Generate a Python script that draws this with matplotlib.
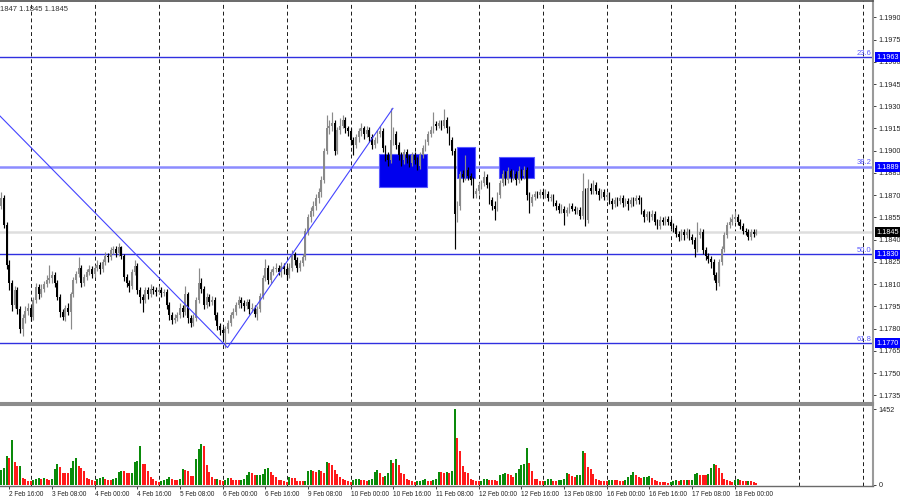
import numpy as np
import matplotlib
matplotlib.use("Agg")
import matplotlib.pyplot as plt
from matplotlib.patches import Rectangle
import matplotlib.transforms as mtransforms
from matplotlib import font_manager

plt.rcParams['font.family'] = ['Liberation Sans', 'DejaVu Sans']
_names = {f.name for f in font_manager.fontManager.ttflist}
if 'Liberation Sans Narrow' in _names:
    date_font = dict(family=['Liberation Sans Narrow', 'DejaVu Sans'], size=5.6)
else:
    date_font = dict(family=['Liberation Sans', 'DejaVu Sans'], size=4.7)

PIP = 1e-4  # prices below are stored in units of 0.0001

first_open = 11860
closes = [
    11863, 11868, 11850, 11823, 11811, 11796, 11806, 11793, 11780, 11787, 11792, 11794,
    11788, 11799, 11808, 11803, 11807, 11810, 11813, 11814, 11816, 11811, 11801, 11791,
    11788, 11794, 11791, 11803, 11813, 11817, 11821, 11811, 11815, 11818, 11820, 11817,
    11821, 11823, 11820, 11825, 11829, 11828, 11833, 11834, 11831, 11835, 11829, 11815,
    11811, 11809, 11818, 11822, 11806, 11801, 11799, 11806, 11803, 11807, 11806, 11805,
    11806, 11804, 11805, 11796, 11789, 11786, 11787, 11789, 11794, 11791, 11803, 11787,
    11784, 11787, 11799, 11811, 11807, 11796, 11801, 11798, 11799, 11789, 11782, 11779,
    11777, 11780, 11784, 11789, 11791, 11796, 11799, 11797, 11795, 11798, 11793, 11794,
    11790, 11793, 11802, 11814, 11821, 11813, 11818, 11820, 11821, 11818, 11822, 11820,
    11816, 11821, 11830, 11826, 11821, 11824, 11828, 11846, 11855, 11859, 11863, 11868,
    11872, 11880, 11900, 11915, 11917, 11919, 11900, 11914, 11917, 11921, 11915, 11913,
    11907, 11904, 11909, 11913, 11915, 11911, 11914, 11909, 11904, 11907, 11911, 11913,
    11902, 11897, 11894, 11907, 11911, 11904, 11897, 11894, 11899, 11895, 11892, 11897,
    11894, 11890, 11897, 11902, 11906, 11911, 11914, 11918, 11917, 11919, 11917, 11921,
    11915, 11907, 11900, 11857, 11863, 11884, 11882, 11887, 11883, 11880, 11871, 11873,
    11877, 11878, 11882, 11877, 11867, 11863, 11861, 11870, 11878, 11884, 11880, 11886,
    11882, 11884, 11880, 11886, 11883, 11887, 11870, 11865, 11869, 11871, 11870, 11872,
    11870, 11871, 11868, 11869, 11865, 11863, 11860, 11861, 11858, 11860, 11863, 11861,
    11859, 11860, 11856, 11873, 11853, 11875, 11873, 11877, 11873, 11870, 11872, 11869,
    11870, 11866, 11864, 11867, 11866, 11868, 11865, 11866, 11864, 11867, 11866, 11868,
    11867, 11859, 11855, 11857, 11855, 11857, 11852, 11849, 11853, 11852, 11854, 11852,
    11849, 11848, 11844, 11842, 11845, 11843, 11845, 11842, 11840, 11834, 11843, 11845,
    11833, 11829, 11827, 11825, 11816, 11811, 11825, 11834, 11843, 11850, 11852, 11854,
    11855, 11852, 11849, 11846, 11845, 11842, 11845, 11844, 11845,
]
highs = [
    11872, 11872, 11870, 11852, 11826, 11813, 11809, 11808, 11795, 11790, 11795, 11797,
    11796, 11801, 11811, 11810, 11810, 11812, 11816, 11823, 11819, 11818, 11813, 11803,
    11793, 11796, 11797, 11805, 11815, 11819, 11828, 11823, 11817, 11820, 11823, 11822,
    11823, 11826, 11825, 11827, 11832, 11831, 11835, 11836, 11836, 11838, 11836, 11830,
    11817, 11813, 11820, 11826, 11824, 11808, 11803, 11808, 11808, 11810, 11809, 11808,
    11809, 11808, 11807, 11807, 11798, 11791, 11790, 11791, 11797, 11796, 11809, 11805,
    11789, 11790, 11801, 11821, 11814, 11809, 11804, 11803, 11802, 11801, 11791, 11784,
    11781, 11782, 11786, 11791, 11794, 11798, 11802, 11801, 11799, 11800, 11800, 11797,
    11796, 11795, 11804, 11816, 11827, 11823, 11820, 11822, 11824, 11823, 11825, 11824,
    11822, 11824, 11833, 11832, 11828, 11826, 11830, 11848, 11857, 11862, 11866, 11871,
    11875, 11883, 11902, 11924, 11921, 11926, 11921, 11916, 11922, 11924, 11923, 11917,
    11915, 11909, 11911, 11915, 11919, 11917, 11917, 11916, 11911, 11909, 11914, 11917,
    11915, 11904, 11899, 11929, 11916, 11913, 11906, 11899, 11901, 11901, 11897, 11899,
    11899, 11896, 11899, 11904, 11908, 11913, 11917, 11926, 11920, 11921, 11921, 11928,
    11923, 11917, 11909, 11902, 11866, 11886, 11887, 11897, 11889, 11885, 11882, 11875,
    11879, 11880, 11886, 11884, 11879, 11869, 11866, 11872, 11880, 11887, 11886, 11889,
    11888, 11887, 11886, 11890, 11888, 11890, 11889, 11872, 11871, 11873, 11873, 11874,
    11874, 11874, 11873, 11871, 11871, 11867, 11865, 11864, 11863, 11862, 11865, 11865,
    11863, 11862, 11862, 11885, 11875, 11881, 11878, 11880, 11879, 11875, 11874, 11874,
    11872, 11872, 11868, 11869, 11869, 11870, 11870, 11868, 11868, 11869, 11869, 11870,
    11870, 11869, 11861, 11859, 11859, 11860, 11859, 11854, 11856, 11855, 11856, 11856,
    11854, 11851, 11850, 11846, 11847, 11847, 11848, 11847, 11844, 11842, 11852, 11848,
    11847, 11835, 11831, 11829, 11827, 11818, 11827, 11836, 11845, 11852, 11855, 11857,
    11859, 11857, 11854, 11851, 11848, 11847, 11847, 11847, 11847,
]
lows = [
    11858, 11861, 11848, 11820, 11806, 11792, 11794, 11790, 11777, 11775, 11784, 11789,
    11785, 11786, 11797, 11800, 11801, 11805, 11808, 11811, 11811, 11808, 11799, 11788,
    11786, 11785, 11789, 11780, 11801, 11811, 11815, 11808, 11809, 11813, 11816, 11814,
    11815, 11819, 11817, 11818, 11823, 11825, 11826, 11830, 11828, 11829, 11827, 11812,
    11808, 11805, 11807, 11816, 11803, 11797, 11791, 11797, 11800, 11801, 11803, 11802,
    11803, 11801, 11802, 11793, 11786, 11783, 11784, 11785, 11787, 11788, 11789, 11784,
    11781, 11782, 11785, 11797, 11804, 11793, 11794, 11795, 11796, 11786, 11779, 11776,
    11772, 11767, 11777, 11782, 11787, 11789, 11794, 11794, 11792, 11793, 11790, 11791,
    11788, 11786, 11791, 11800, 11812, 11810, 11811, 11816, 11818, 11816, 11815, 11817,
    11813, 11814, 11819, 11823, 11818, 11819, 11822, 11826, 11843, 11852, 11856, 11860,
    11865, 11869, 11878, 11898, 11911, 11913, 11897, 11898, 11911, 11915, 11912, 11910,
    11904, 11897, 11902, 11906, 11910, 11908, 11909, 11906, 11901, 11902, 11905, 11909,
    11899, 11893, 11890, 11892, 11904, 11901, 11894, 11890, 11891, 11892, 11889, 11890,
    11891, 11887, 11888, 11895, 11900, 11904, 11909, 11912, 11914, 11915, 11914, 11915,
    11912, 11904, 11897, 11834, 11852, 11860, 11879, 11880, 11880, 11877, 11868, 11868,
    11871, 11874, 11876, 11875, 11864, 11860, 11853, 11859, 11868, 11876, 11877, 11878,
    11879, 11880, 11877, 11878, 11880, 11881, 11867, 11858, 11863, 11867, 11868, 11868,
    11868, 11868, 11866, 11866, 11863, 11860, 11858, 11858, 11850, 11856, 11858, 11859,
    11857, 11857, 11854, 11854, 11849, 11851, 11871, 11871, 11871, 11867, 11868, 11867,
    11867, 11864, 11861, 11862, 11863, 11864, 11862, 11863, 11860, 11862, 11863, 11864,
    11864, 11857, 11852, 11853, 11852, 11853, 11850, 11847, 11847, 11850, 11850, 11850,
    11847, 11845, 11842, 11839, 11840, 11840, 11841, 11840, 11837, 11828, 11832, 11841,
    11830, 11826, 11824, 11821, 11813, 11806, 11809, 11823, 11832, 11841, 11848, 11850,
    11852, 11850, 11847, 11844, 11843, 11840, 11840, 11842, 11843,
]
volumes = [
    250,
    283, 315, 553, 521, 862, 444, 360, 365, 129, 109, 77, 64,
    90, 103, 122, 103, 122, 103, 100, 109, 296, 392, 334, 225,
    222, 220, 322, 463, 508, 354, 315, 264, 135, 103, 84, 71,
    103, 122, 141, 109, 90, 88, 103, 122, 251, 270, 268, 231,
    219, 231, 437, 463, 746, 405, 398, 264, 154, 103, 71, 58,
    77, 90, 116, 154, 116, 90, 88, 103, 296, 290, 270, 167,
    165, 489, 688, 784, 746, 379, 251, 154, 103, 106, 90, 64,
    90, 129, 122, 90, 84, 82, 90, 103, 186, 251, 219, 180,
    182, 184, 206, 296, 315, 251, 186, 141, 90, 84, 64, 58,
    154, 129, 127, 77, 75, 73, 77, 257, 283, 264, 251, 283,
    270, 219, 437, 411, 373, 283, 206, 154, 103, 90, 71, 58,
    90, 109, 116, 90, 88, 64, 90, 116, 251, 276, 231, 154,
    158, 231, 476, 424, 502, 379, 219, 206, 103, 90, 71, 58,
    71, 77, 90, 103, 77, 75, 90, 109, 251, 238, 231, 244,
    230, 264, 1452,
    894, 656, 360, 238, 231, 103, 84, 71, 64,
    71, 103, 116, 90, 88, 84, 77, 186, 206, 219, 206, 180,
    154, 219, 302, 373, 399, 701, 424, 270, 116, 103, 77, 64,
    71, 109, 116, 77, 75, 90, 96, 109, 219, 206, 167, 154,
    180, 186, 656, 604, 347, 296, 206, 116, 90, 77, 71, 64,
    90, 92, 90, 88, 71, 70, 90, 154, 193, 244, 193, 154,
    135, 150, 154, 160, 129, 90, 64, 51, 50, 49, 39, 51,
    77, 90, 71, 90, 84, 90, 84, 90, 206, 225, 186, 180,
    179, 206, 322, 399, 373, 315, 231, 103, 90, 77, 58, 90,
    109, 90, 77, 64, 77, 71, 51, 26,
]

# Fibonacci levels and current price
level_prices = [1.1963, 1.1889, 1.1830, 1.1770]
level_names = ["23.6", "38.2", "50.0", "61.8"]
current_price = 1.1845
header_text = "1847 1.1845 1.1845"

price_ticks = [1.1735, 1.1750, 1.1765, 1.1780, 1.1795, 1.1810, 1.1825, 1.1840,
               1.1855, 1.1870, 1.1885, 1.1900, 1.1915, 1.1930, 1.1945, 1.1960,
               1.1975, 1.1990]

# bar index of each day start (00:00), incl. future days
day_starts = [12, 36, 60, 84, 108, 132, 156, 180, 204, 228, 252, 276, 300, 324]
time_label_idx = [4, 20, 36, 52, 68, 84, 100, 116, 132, 148, 164, 180, 196, 212,
                  228, 244, 260, 276]
time_labels = ["2 Feb 16:00", "3 Feb 08:00", "4 Feb 00:00", "4 Feb 16:00",
               "5 Feb 08:00", "6 Feb 00:00", "6 Feb 16:00", "9 Feb 08:00",
               "10 Feb 00:00", "10 Feb 16:00", "11 Feb 08:00", "12 Feb 00:00",
               "12 Feb 16:00", "13 Feb 08:00", "16 Feb 00:00", "16 Feb 16:00",
               "17 Feb 08:00", "18 Feb 00:00"]

# trend line vertices (bar index, price)
trend_idx = [0.0, 85.8, 147.8]
trend_price = [1.19243, 1.17672, 1.19286]

# blue zones: (start idx, end idx, low price, high price)
zone_idx0 = [142.7, 171.7, 187.7]
zone_idx1 = [160.7, 178.7, 200.7]
zone_lo = [1.18757, 1.18816, 1.18816]
zone_hi = [1.18978, 1.19023, 1.18960]

# ---------------------------------------------------------------
c = np.array(closes) * PIP
o = np.concatenate([[first_open], closes[:-1]]) * PIP
h = np.array(highs) * PIP
l = np.array(lows) * PIP
v = np.array(volumes, dtype=float)
x = np.arange(len(c))

W, H = 900, 500
fig = plt.figure(figsize=(9, 5), dpi=100)
fig.patch.set_facecolor('white')

x_left, x_right = 0.49, 327.8
ax = fig.add_axes([0, 1 - 403 / H, 873 / W, 402 / H])
axv = fig.add_axes([0, 1 - 486 / H, 873 / W, 81 / H])

# ---- main price panel
ax.set_xlim(x_left, x_right)
ax.set_ylim(1.17298, 1.20010)

for d in day_starts:
    ax.axvline(d, color='#1a1a1a', lw=0.7, ls=(0, (4, 3)), zorder=0.5)
    axv.axvline(d, color='#1a1a1a', lw=0.7, ls=(0, (4, 3)), zorder=0.5)

ax.axhline(current_price, color='#dedede', lw=1.8, zorder=0.8)
bt = mtransforms.blended_transform_factory(ax.transAxes, ax.transData)
for lp, nm in zip(level_prices, level_names):
    if nm == "38.2":
        ax.axhline(lp, color='#8c8cff', lw=1.8, zorder=1)
    else:
        ax.axhline(lp, color='#3030e0', lw=1.0, zorder=1)
    ax.text(0.998, lp + 0.00004, nm, transform=bt,
            ha='right', va='bottom', fontsize=5.5, color='#5a5aff', zorder=5)

for a0, a1, lo, hi in zip(zone_idx0, zone_idx1, zone_lo, zone_hi):
    ax.add_patch(Rectangle((a0, lo), a1 - a0, hi - lo, facecolor='#0000ee',
                           edgecolor='#5a5aff', lw=0.8, zorder=2))

up = c >= o
col = np.where(up, '#8a8a8a', '#000000')
ax.vlines(x, l, h, colors=col, lw=0.85, zorder=3)
body_lo = np.minimum(o, c)
body_h = np.maximum(np.abs(c - o), 0.5 * PIP)
ax.bar(x, body_h, bottom=body_lo, width=0.7, color=col, linewidth=0,
       zorder=3.1)

ax.plot(trend_idx, trend_price, color='#4444ff', lw=0.8, zorder=4)

ax.text(0.0, 0.988, header_text, transform=ax.transAxes, ha='left', va='top',
        fontsize=5.5, color='#333333')

# axes styling
ax.spines['left'].set_visible(False)
ax.spines['top'].set_color('#505050')
ax.spines['top'].set_linewidth(1.2)
ax.spines['right'].set_color('#9a9a9a')
ax.spines['right'].set_linewidth(1.5)
ax.spines['bottom'].set_color('#8c8c8c')
ax.spines['bottom'].set_linewidth(1.5)
ax.set_xticks([])
ax.yaxis.tick_right()
ax.set_yticks(price_ticks)
ax.set_yticklabels([f"{t:.4f}" for t in price_ticks])
ax.tick_params(axis='y', labelsize=5.2, length=2.5, width=0.6, pad=1.5,
               colors='#222222', direction='out')

# price boxes on the right axis
for lp in level_prices:
    ax.text(1.004, lp, f"{lp:.4f}", transform=bt, ha='left', va='center',
            fontsize=5.2, color='white', clip_on=False, zorder=6,
            bbox=dict(boxstyle='square,pad=0.2', fc='#0000ff', ec='none'))
ax.text(1.004, current_price, f"{current_price:.4f}", transform=bt, ha='left',
        va='center', fontsize=5.2, color='white', clip_on=False, zorder=6,
        bbox=dict(boxstyle='square,pad=0.2', fc='#000000', ec='none'))

# ---- volume panel
axv.set_xlim(x_left, x_right)
axv.set_ylim(-25, 1535)
prev = np.concatenate([[v[0] + 1], v[:-1]])
vcol = np.where(v > prev, '#0a8a0a', '#ff1a1a')
axv.bar(x, v, width=0.75, color=vcol, linewidth=0, zorder=2, antialiased=False)

axv.spines['left'].set_visible(False)
axv.spines['top'].set_color('#8c8c8c')
axv.spines['top'].set_linewidth(1.5)
axv.spines['right'].set_color('#9a9a9a')
axv.spines['right'].set_linewidth(1.5)
axv.spines['bottom'].set_color('#6a6a6a')
axv.spines['bottom'].set_linewidth(1.0)
axv.yaxis.tick_right()
axv.set_yticks([0, 1452])
axv.set_yticklabels(["0", "1452"])
axv.tick_params(axis='y', labelsize=5.2, length=2.5, width=0.6, pad=1.5,
                colors='#222222')
axv.set_xticks(time_label_idx)
axv.set_xticklabels(time_labels, ha='left', fontfamily=date_font['family'],
                    fontsize=date_font['size'])
axv.tick_params(axis='x', length=2, width=0.6, pad=1.5, colors='#222222')

fig.savefig('out.png', dpi=100, facecolor='white')
